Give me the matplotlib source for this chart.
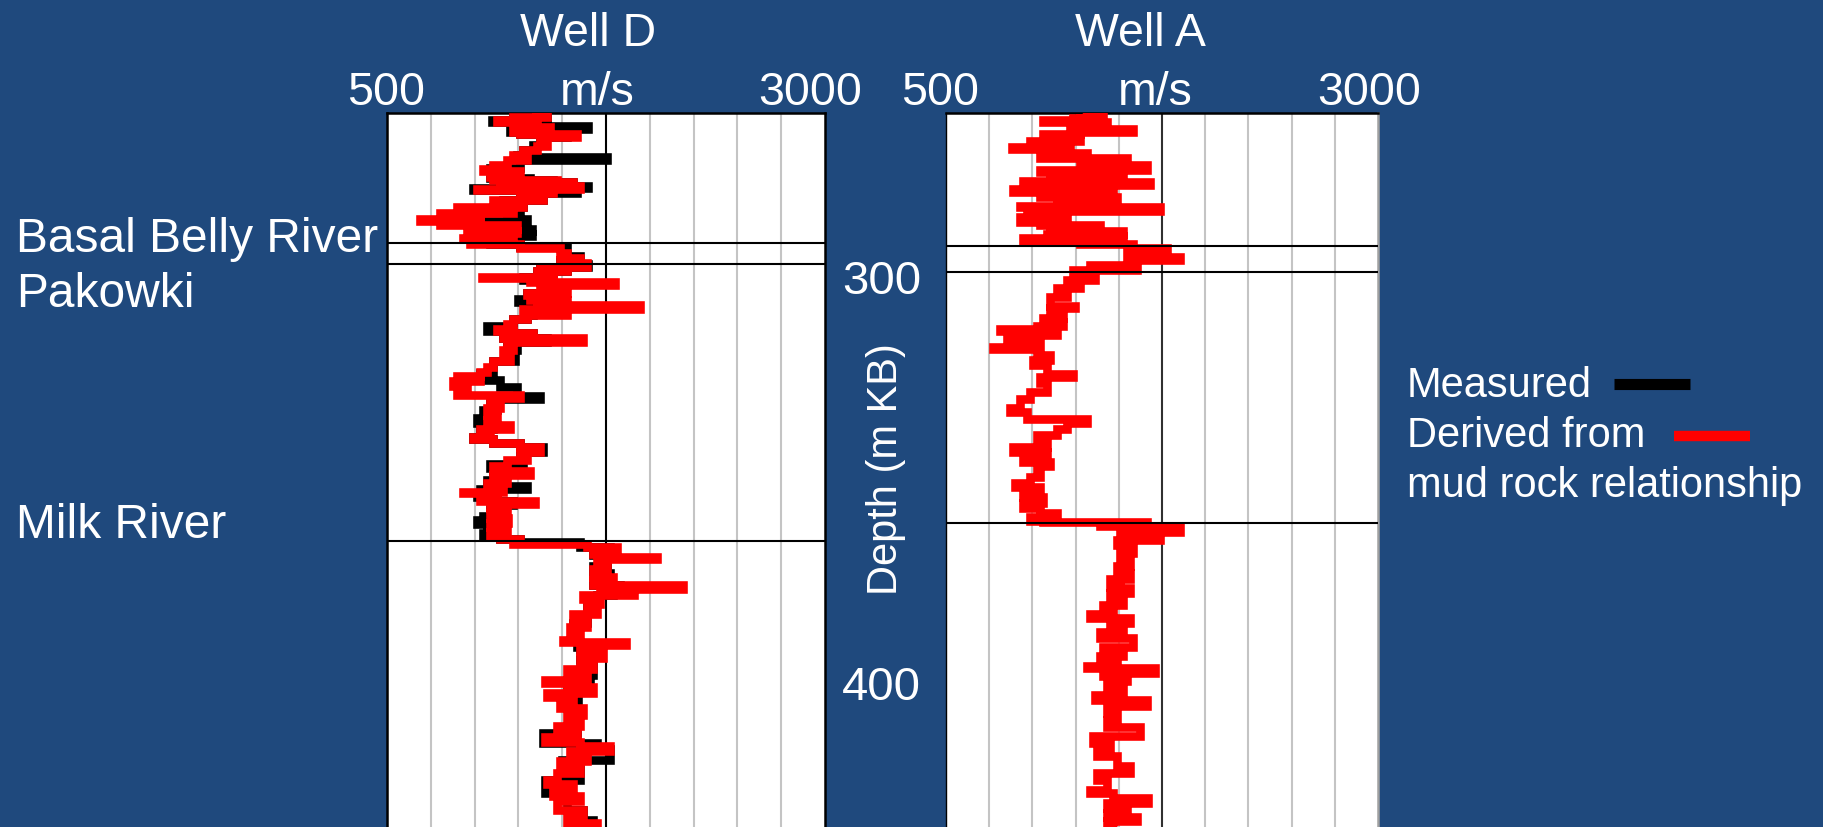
import matplotlib
matplotlib.use('Agg')
import matplotlib.pyplot as plt
import matplotlib.transforms as mtransforms
from matplotlib.lines import Line2D

plt.rcParams['font.family'] = ['Liberation Sans', 'DejaVu Sans']

# ---------------- data ----------------
well_names = ["Well D", "Well A"]
vel_min, vel_max = 500, 3000
vel_grid = [750, 1000, 1250, 1500, 2000, 2250, 2500, 2750]
vel_center = 1750
depth_ticks = [300, 400]
top_names = ["Basal Belly River", "Pakowki", "Milk River"]
tops_well_d = [291.8, 296.9, 363.9]
tops_well_a = [292.4, 298.7, 359.5]

# Well D, derived from mud rock relationship (red)
wd_red_vel = [1316, 1412, 1221, 1126, 1354, 1259, 1431, 1221, 1259, 1583, 1373, 1411, 1354, 1278, 1221, 1297,
              1183, 1107, 1050, 1259, 1088, 1107, 1469, 1564, 1145, 1602, 1012, 1450, 1259, 1393, 1107, 1278,
              898, 1221, 803, 1031, 688, 1031, 803, 1240, 1031, 1240, 955, 1221, 936, 1088, 974, 1259,
              1488, 1526, 1602, 1488, 1640, 1373, 1526, 1354, 1450, 1040, 1450, 1316, 1802, 1373, 1526, 1297,
              1450, 1316, 1526, 1354, 1944, 1278, 1526, 1297, 1221, 1183, 1126, 1221, 1335, 1164, 1621, 1183,
              1221, 1164, 1202, 1107, 1069, 1031, 898, 1031, 879, 955, 898, 1259, 1088, 1145, 1069, 1126,
              1069, 1202, 1031, 1088, 993, 1107, 1259, 1373, 1259, 1297, 1183, 1107, 1316, 1107, 1183, 1069,
              1164, 936, 1126, 1031, 1345, 1088, 1183, 1088, 1193, 1088, 1183, 1088, 1145, 1259, 1221, 1640,
              1812, 1678, 1754, 2040, 1697, 1754, 1678, 1792, 1678, 2192, 1716, 1907, 1621, 1716, 1640, 1697,
              1564, 1640, 1545, 1602, 1507, 1862, 1602, 1735, 1602, 1678, 1526, 1640, 1402, 1526, 1678, 1412,
              1564, 1488, 1621, 1526, 1602, 1469, 1583, 1402, 1602, 1773, 1545, 1640, 1488, 1602, 1469, 1412,
              1564, 1450, 1602, 1469, 1621, 1526, 1697, 1602]
wd_red_depth = [260.5, 260.7, 261.3, 262.0, 262.5, 263.1, 263.6, 264.2, 264.9, 265.5, 266.2, 267.2, 268.3, 269.2, 270.5, 271.0,
                271.8, 272.9, 273.9, 274.3, 275.1, 275.9, 276.5, 277.1, 277.7, 278.0, 278.6, 278.9, 279.7, 280.2, 281.4, 282.0,
                283.1, 283.6, 284.6, 285.0, 286.0, 286.4, 287.0, 287.5, 288.3, 288.8, 289.4, 289.9, 290.5, 290.9, 291.3, 292.1,
                293.1, 294.3, 295.4, 296.0, 296.7, 297.5, 298.0, 298.6, 299.3, 299.9, 300.2, 300.9, 301.3, 301.9, 302.8, 303.8,
                304.3, 304.9, 305.6, 306.4, 306.8, 307.8, 308.3, 309.3, 310.3, 311.4, 312.5, 313.1, 313.6, 314.4, 314.9, 315.7,
                317.0, 317.7, 318.9, 320.3, 321.7, 322.9, 324.0, 324.5, 325.3, 326.5, 327.4, 328.6, 329.4, 330.5, 331.8, 333.4,
                334.6, 335.9, 336.9, 337.8, 338.7, 339.3, 340.1, 341.3, 342.3, 343.1, 344.3, 345.8, 347.1, 347.9, 348.7, 349.8,
                350.8, 352.0, 352.4, 353.2, 354.2, 355.0, 356.0, 357.2, 358.4, 359.6, 360.6, 361.7, 362.7, 363.5, 364.2, 364.7,
                365.3, 366.1, 367.1, 367.7, 368.2, 369.5, 370.8, 372.7, 373.5, 374.6, 375.6, 376.3, 376.9, 378.0, 379.2, 380.3,
                381.7, 383.2, 384.7, 386.3, 387.9, 388.5, 389.2, 390.7, 392.3, 393.5, 395.0, 396.1, 397.6, 398.4, 399.2, 400.8,
                401.8, 403.1, 404.4, 406.0, 407.2, 408.8, 410.0, 411.3, 412.5, 413.7, 414.9, 416.1, 417.3, 418.9, 420.1, 421.8,
                422.7, 424.2, 425.6, 427.0, 429.0, 430.6, 432.3, 433.5]

# Well D, measured (black)
wd_meas_vel = [1316, 1412, 1221, 1098, 1354, 1411, 1649, 1202, 1259, 1526, 1373, 1392, 1335, 1278, 1240, 1754,
               1259, 1259, 1088, 1221, 1088, 1316, 1450, 1564, 1145, 1649, 993, 1583, 1259, 1393, 1164, 1278,
               1221, 1259, 1183, 1297, 1031, 1221, 1326, 1240, 1326, 1221, 1088, 1259, 1526, 1526, 1602, 1602,
               1488, 1650, 1373, 1526, 1354, 1450, 1278, 1450, 1488, 1297, 1450, 1250, 1354, 1450, 1335, 1297,
               1221, 1069, 1221, 1335, 1164, 1411, 1183, 1240, 1231, 1107, 1107, 1031, 1145, 1240, 1373, 1088,
               1126, 1050, 1012, 1107, 1031, 993, 1107, 1259, 1392, 1259, 1278, 1088, 1221, 1145, 1069, 1297,
               1031, 1012, 1126, 1221, 1088, 1145, 1050, 1012, 1126, 1069, 1050, 1145, 1259, 1602, 1773, 1678,
               1754, 1678, 1773, 1678, 1830, 1792, 1697, 1640, 1640, 1564, 1583, 1602, 1678, 1659, 1526, 1592,
               1535, 1583, 1393, 1697, 1773, 1497, 1602, 1402, 1526, 1621, 1678, 1621]
wd_meas_depth = [260.5, 260.7, 261.3, 262.1, 262.5, 263.1, 263.4, 264.2, 264.9, 265.5, 266.2, 267.0, 268.0, 269.2, 270.5, 271.0,
                 271.8, 272.6, 273.7, 274.3, 275.1, 276.1, 276.5, 277.1, 277.7, 278.0, 278.4, 278.9, 279.7, 280.2, 281.4, 282.0,
                 283.1, 283.9, 285.0, 286.0, 286.4, 287.2, 288.3, 288.8, 289.6, 290.0, 290.9, 292.1, 292.7, 294.3, 294.9, 295.4,
                 296.0, 296.8, 297.5, 298.0, 298.6, 299.3, 300.1, 300.7, 302.0, 303.8, 304.3, 305.4, 306.1, 306.8, 307.7, 309.3,
                 310.3, 312.0, 313.1, 313.6, 314.4, 314.9, 315.7, 317.0, 317.8, 320.3, 321.6, 323.3, 324.9, 326.7, 328.8, 329.6,
                 330.6, 332.2, 334.2, 335.4, 336.9, 338.7, 339.3, 340.1, 341.3, 342.3, 343.9, 345.2, 346.3, 347.5, 349.1, 350.6,
                 351.4, 352.6, 353.4, 354.3, 355.2, 356.6, 357.9, 358.8, 359.8, 360.8, 361.9, 362.7, 363.5, 364.2, 365.3, 366.3,
                 367.3, 370.1, 371.7, 373.4, 374.6, 375.0, 377.0, 379.0, 381.4, 383.9, 386.3, 389.5, 392.7, 396.3, 398.4, 401.2,
                 404.0, 407.2, 410.4, 412.8, 414.2, 416.9, 418.9, 421.8, 425.0, 429.0, 431.4, 433.5]

# Well A, derived from mud rock relationship (red)
wa_red_vel = [1275, 1410, 1237, 1063, 1430, 1218, 1584, 1275, 1063, 1275, 986, 1218, 880, 1198, 1314, 1044,
              1546, 1275, 1661, 1044, 1526, 1102, 948, 1681, 1140, 1391, 890, 1468, 1044, 1488, 1140, 1468,
              928, 1738, 967, 1198, 928, 1044, 1391, 1102, 1526, 1083, 1526, 948, 1275, 1584, 1777, 1546,
              1854, 1584, 1333, 1603, 1237, 1362, 1198, 1275, 1140, 1198, 1102, 1247, 1102, 1179, 1063, 1179,
              1025, 813, 1140, 851, 1044, 774, 1025, 1102, 1005, 1083, 1237, 1044, 1083, 986, 928, 870,
              967, 1314, 1198, 1140, 1025, 1083, 890, 1083, 948, 1102, 1025, 1044, 986, 899, 1044, 948,
              1063, 948, 1044, 1140, 986, 1063, 1661, 1391, 1854, 1507, 1738, 1488, 1584, 1507, 1565, 1488,
              1565, 1449, 1507, 1565, 1449, 1526, 1411, 1468, 1333, 1565, 1449, 1526, 1391, 1584, 1411, 1526,
              1391, 1488, 1314, 1709, 1411, 1546, 1430, 1526, 1362, 1661, 1430, 1488, 1430, 1623, 1353, 1449,
              1372, 1488, 1565, 1372, 1430, 1333, 1468, 1671, 1430, 1546, 1430, 1603, 1430, 1488]
wa_red_depth = [260.5, 260.9, 261.5, 262.1, 262.5, 263.4, 264.1, 264.9, 265.5, 266.2, 267.0, 267.8, 268.6, 269.1, 269.9, 270.5,
                271.3, 272.2, 273.0, 274.1, 274.7, 275.5, 276.7, 276.9, 277.7, 278.3, 278.8, 279.4, 280.2, 280.7, 281.5, 282.2,
                282.8, 283.1, 284.1, 285.0, 285.6, 286.6, 287.4, 288.2, 288.9, 289.6, 290.1, 290.6, 291.2, 292.0, 293.1, 293.9,
                295.2, 296.0, 297.1, 297.7, 298.3, 300.1, 300.7, 301.7, 302.7, 303.8, 304.8, 307.0, 307.6, 308.8, 310.0, 310.8,
                311.9, 312.7, 313.0, 314.0, 315.1, 316.9, 317.5, 318.9, 320.1, 321.3, 323.5, 324.3, 325.7, 327.8, 329.6, 331.8,
                332.6, 334.3, 335.4, 336.9, 338.3, 339.5, 341.1, 342.3, 343.1, 344.7, 345.9, 347.5, 348.5, 349.8, 350.8, 352.2,
                353.2, 354.8, 356.0, 357.2, 358.2, 359.2, 359.3, 360.1, 360.4, 361.7, 362.5, 363.7, 364.9, 366.9, 368.1, 370.1,
                371.7, 373.2, 375.0, 375.4, 376.6, 377.8, 379.4, 380.6, 381.7, 382.6, 383.9, 385.1, 386.1, 387.5, 389.5, 390.3,
                391.9, 393.1, 394.3, 394.6, 395.9, 396.7, 397.9, 399.6, 401.2, 402.4, 404.0, 405.6, 407.2, 409.0, 411.2, 412.9,
                414.5, 416.1, 418.5, 420.1, 421.7, 424.2, 425.0, 426.2, 427.4, 428.6, 429.8, 430.8, 431.8, 433.0]

legend_labels = ["Measured", "Derived from", "mud rock relationship"]

# ---------------- layout ----------------
BG = '#1F497D'
W, H = 1824, 827
def fx(px):
    return px / W
def fy(py):
    return 1 - py / H

fig = plt.figure(figsize=(W / 100, H / 100), dpi=100, facecolor=BG)

axD = fig.add_axes([fx(387), 0, 438 / W, (H - 113) / H])
axA = fig.add_axes([fx(946), 0, 432 / W, (H - 113) / H])

depth_top, depth_bottom = 260.3, 433.2

for ax, tops in ((axD, tops_well_d), (axA, tops_well_a)):
    ax.set_facecolor('white')
    ax.set_xlim(vel_min, vel_max)
    ax.set_ylim(depth_bottom, depth_top)
    for v in vel_grid:
        ax.axvline(v, color='#C4C4C4', lw=1.5, zorder=1)
    ax.axvline(vel_center, color='black' if ax is axD else '#303030', lw=1.5, zorder=2)
    for t in tops:
        ax.axhline(t, color='black', lw=1.5, zorder=6)
    ax.set_xticks([])
    ax.spines['bottom'].set_visible(False)
    for s in ('left', 'right', 'top'):
        ax.spines[s].set_color('black')
        ax.spines[s].set_linewidth(1.8)

axA.spines['right'].set_color('#A0A0A0')
axA.spines['left'].set_linewidth(1.0)

axD.set_yticks([])
axA.set_yticks(depth_ticks)
axA.set_yticklabels([str(t) for t in depth_ticks])
axA.tick_params(axis='y', length=0, pad=18, labelsize=34, labelcolor='white')
# the lower depth label sits slightly above its tick in the original
ticks = axA.yaxis.get_major_ticks()
lab400 = ticks[1].label1
lab400.set_transform(lab400.get_transform() +
                     mtransforms.ScaledTranslation(0, 0.07, fig.dpi_scale_trans))

line_kw = dict(lw=6.2, drawstyle='steps-pre', solid_joinstyle='miter', solid_capstyle='butt')
axD.plot(wd_meas_vel, wd_meas_depth, color='black', zorder=3, **line_kw)
axD.plot(wd_red_vel, wd_red_depth, color='#FF0000', zorder=4, **line_kw)
axA.plot(wa_red_vel, wa_red_depth, color='#FF0000', zorder=4, **line_kw)

txt = dict(color='white', fontsize=33.5)
# headers
fig.text(fx(588), fy(46), well_names[0], ha='center', va='baseline', **txt)
fig.text(fx(1140), fy(46), well_names[1], ha='center', va='baseline', **txt)
for cx_lo, cx_mid, cx_hi in ((386, 597, 810), (940, 1155, 1369)):
    fig.text(fx(cx_lo), fy(105), str(vel_min), ha='center', va='baseline', **txt)
    fig.text(fx(cx_mid), fy(105), 'm/s', ha='center', va='baseline', **txt)
    fig.text(fx(cx_hi), fy(105), str(vel_max), ha='center', va='baseline', **txt)

# formation names
for name, base in zip(top_names, (252, 307, 538)):
    fig.text(fx(16), fy(base), name, ha='left', va='baseline', color='white', fontsize=34.5)

# depth label
fig.text(fx(886), fy(469), 'Depth (m KB)', rotation=90, ha='center', va='center',
         color='white', fontsize=30)

# legend
ltxt = dict(color='white', fontsize=30)
fig.text(fx(1407), fy(397), legend_labels[0], ha='left', va='baseline', **ltxt)
fig.text(fx(1407), fy(447), legend_labels[1], ha='left', va='baseline', **ltxt)
fig.text(fx(1407), fy(497), legend_labels[2], ha='left', va='baseline', **ltxt)
fig.add_artist(Line2D([fx(1614), fx(1690)], [fy(384), fy(384)], color='black', lw=8,
                      solid_capstyle='butt', transform=fig.transFigure))
fig.add_artist(Line2D([fx(1674), fx(1750)], [fy(436), fy(436)], color='#FF0000', lw=7.5,
                      solid_capstyle='butt', transform=fig.transFigure))

fig.savefig('out.png', dpi=100, facecolor=BG)
